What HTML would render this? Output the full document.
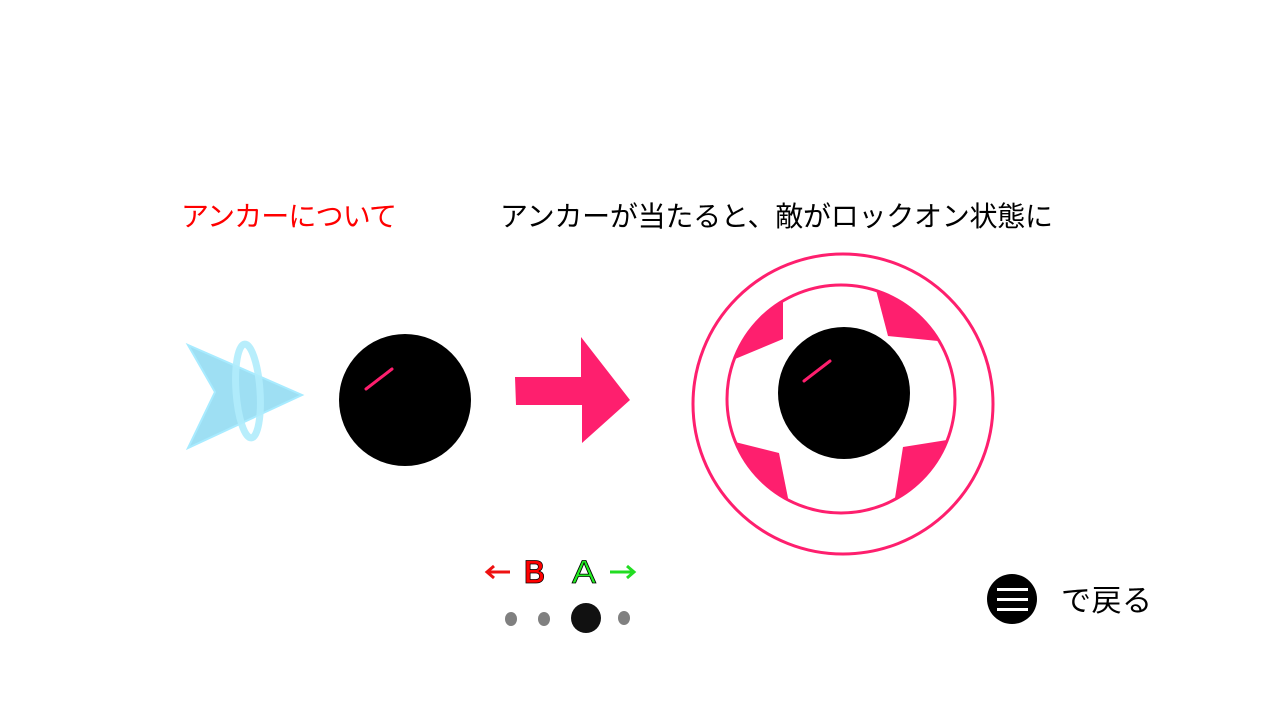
<!DOCTYPE html>
<html><head><meta charset="utf-8"><style>
html,body{margin:0;padding:0;background:#fff;width:1280px;height:720px;overflow:hidden}
svg{display:block}
text{font-family:"Liberation Sans","Noto Sans CJK JP",sans-serif}
</style></head><body>
<svg width="1280" height="720" viewBox="0 0 1280 720">
<defs><clipPath id="inner"><circle cx="841" cy="399" r="113"/></clipPath></defs>
<text x="181" y="226" font-size="28" fill="#ff0000" textLength="216">アンカーについて</text>
<text x="500" y="226" font-size="28" fill="#000" textLength="553">アンカーが当たると、敵がロックオン状態に</text>

<g>
<polygon points="188,345 302,395 188,448 215,392" fill="#9edff3" stroke="#a8ebff" stroke-width="2"/>
<ellipse cx="248" cy="391" rx="12" ry="47" fill="none" stroke="#b0ecfc" stroke-width="7" opacity="0.9" transform="rotate(-4 248 391)"/>
</g>
<g>
<circle cx="405" cy="400" r="66" fill="#000"/>
<line x1="366" y1="389" x2="392" y2="369" stroke="#fe1f6e" stroke-width="3" stroke-linecap="round"/>
</g>
<polygon points="515,377 581,377 581,337 630,400 582,443 582,405 516,405" fill="#fe1f6e"/>

<g>
<circle cx="843" cy="404" r="150" fill="none" stroke="#fe1f6e" stroke-width="3"/>
<circle cx="841" cy="399" r="114" fill="none" stroke="#fe1f6e" stroke-width="3"/>
<g clip-path="url(#inner)" fill="#fe1f6e">
<polygon points="783,302 783,339 735,359 690,330 760,270"/>
<polygon points="876,290 888,336 938,341 970,300 890,260"/>
<polygon points="735,442 779,453 788,498 760,540 700,470"/>
<polygon points="903,447 947,440 980,470 920,540 895,498"/>
</g>
<circle cx="844" cy="393" r="66" fill="#000"/>
<line x1="804" y1="381" x2="830" y2="361" stroke="#fe1f6e" stroke-width="3" stroke-linecap="round"/>
</g>

<g>
<g stroke="#ee1111" stroke-width="3" fill="none">
<line x1="488" y1="572" x2="510" y2="572"/><polyline points="494,566 487,572 494,578"/>
</g>
<text x="524" y="583" font-size="32" fill="#ff0000" stroke="#000" stroke-width="0.8" font-weight="bold" textLength="21" lengthAdjust="spacingAndGlyphs">B</text>
<text x="572" y="583" font-size="32" fill="#22ee22" stroke="#000" stroke-width="0.8" textLength="24" lengthAdjust="spacingAndGlyphs">A</text>
<g stroke="#22dd22" stroke-width="3" fill="none">
<line x1="610" y1="572" x2="633" y2="572"/><polyline points="627,566 634,572 627,578"/>
</g>
</g>
<g>
<ellipse cx="511" cy="619" rx="6" ry="7" fill="#808080"/>
<ellipse cx="544" cy="619" rx="6" ry="7" fill="#808080"/>
<ellipse cx="586" cy="618" rx="15" ry="15" fill="#111"/>
<ellipse cx="624" cy="618" rx="6" ry="7" fill="#808080"/>
</g>
<g>
<circle cx="1012" cy="599" r="25" fill="#000"/>
<rect x="997" y="588" width="31" height="3" fill="#fff"/>
<rect x="997" y="598" width="31" height="3" fill="#fff"/>
<rect x="997" y="608" width="31" height="3" fill="#fff"/>
<text x="1061" y="611" font-size="30" fill="#000" textLength="91">で戻る</text>
</g>
</svg>
</body></html>
